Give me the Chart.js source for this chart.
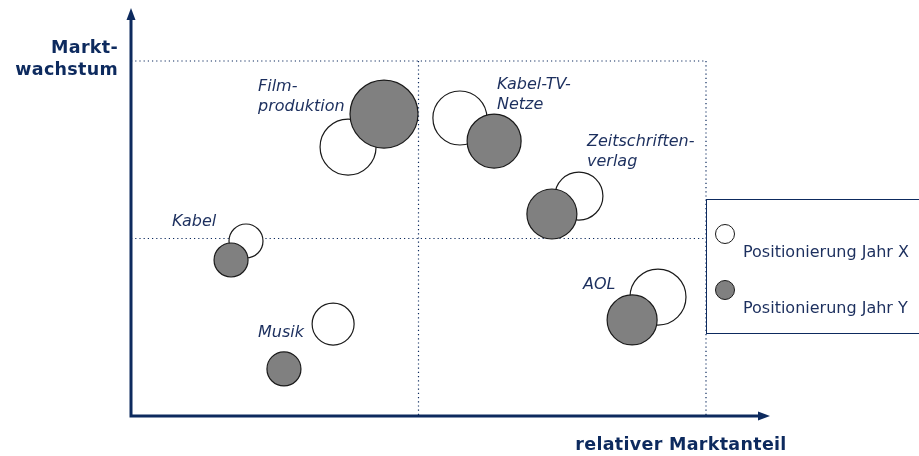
<!DOCTYPE html>
<html>
<head>
<meta charset="utf-8">
<script src="https://cdn.jsdelivr.net/npm/chart.js@4"></script>
<style>
  body { margin: 0; background: #fff; }
  #wrap { width: 919px; height: 456px; }
</style>
</head>
<body>
<div id="wrap"><canvas id="portfolio" width="919" height="456"></canvas></div>
<script>
// Geschäftsfelder (Portfolio-Matrix), Achsen 0..2, Trennlinie bei 1
const felder = ['Filmproduktion', 'Kabel-TV-Netze', 'Zeitschriftenverlag', 'Kabel', 'Musik', 'AOL'];
const labelZeilen = [['Film-', 'produktion'], ['Kabel-TV-', 'Netze'], ['Zeitschriften-', 'verlag'], ['Kabel'], ['Musik'], ['AOL']];

// Jahr X
const anteilX = [0.755, 1.144, 1.558, 0.400, 0.703, 1.833];
const wachstumX = [1.515, 1.679, 1.239, 0.986, 0.518, 0.670];
const groesseX = [28, 27, 24, 17, 21, 28];

// Jahr Y
const anteilY = [0.880, 1.263, 1.464, 0.348, 0.532, 1.743];
const wachstumY = [1.701, 1.549, 1.138, 0.879, 0.265, 0.541];
const groesseY = [34, 27, 25, 17, 17, 25];

const navy = '#0d2a5e';
const textNavy = '#1c2f5e';

function punkte(xs, ys, rs) {
    return xs.map((x, i) => ({ x: x, y: ys[i], r: rs[i] }));
}

// Achsen, Pfeile, Quadrantenlinien, Beschriftungen, Legende
const matrixPlugin = {
    id: 'matrix',
    beforeDatasetsDraw(chart) {
        const ctx = chart.ctx;
        const xs = chart.scales.x;
        const ys = chart.scales.y;
        const x0 = xs.getPixelForValue(0), x1 = xs.getPixelForValue(1), x2 = xs.getPixelForValue(2);
        const y0 = ys.getPixelForValue(0), y1 = ys.getPixelForValue(1), y2 = ys.getPixelForValue(2);

        ctx.save();
        ctx.strokeStyle = navy;
        ctx.lineWidth = 1.2;
        ctx.setLineDash([1.2, 3]);
        ctx.beginPath();
        ctx.moveTo(x0, y2); ctx.lineTo(x2, y2);
        ctx.moveTo(x0, y1); ctx.lineTo(x2, y1);
        ctx.moveTo(x1, y2); ctx.lineTo(x1, y0);
        ctx.moveTo(x2, y2); ctx.lineTo(x2, y0);
        ctx.stroke();
        ctx.restore();

        // Legendenkasten
        ctx.save();
        ctx.fillStyle = '#fff';
        ctx.fillRect(x2, 199, 919 - x2, 135);
        ctx.strokeStyle = navy;
        ctx.lineWidth = 1;
        ctx.strokeRect(x2 + 0.5, 199.5, 919, 134);
        ctx.restore();
    },
    afterDatasetsDraw(chart) {
        const ctx = chart.ctx;
        const xs = chart.scales.x;
        const ys = chart.scales.y;
        const x0 = xs.getPixelForValue(0);
        const y0 = ys.getPixelForValue(0);

        ctx.save();
        // Achsen
        ctx.strokeStyle = navy;
        ctx.fillStyle = navy;
        ctx.lineWidth = 3;
        ctx.setLineDash([]);
        ctx.beginPath();
        ctx.moveTo(x0, y0 + 1.5);
        ctx.lineTo(x0, 18);
        ctx.moveTo(x0 - 1.5, y0);
        ctx.lineTo(762, y0);
        ctx.stroke();
        ctx.beginPath();
        ctx.moveTo(x0, 8); ctx.lineTo(x0 - 4.5, 20); ctx.lineTo(x0 + 4.5, 20); ctx.closePath();
        ctx.fill();
        ctx.beginPath();
        ctx.moveTo(770, y0); ctx.lineTo(758, y0 - 4.5); ctx.lineTo(758, y0 + 4.5); ctx.closePath();
        ctx.fill();

        // Achsentitel
        ctx.font = 'bold 17.5px "DejaVu Sans", Verdana, sans-serif';
        ctx.letterSpacing = '0.3px';
        ctx.textBaseline = 'middle';
        ctx.textAlign = 'right';
        ctx.fillText('Markt-', 118, 48);
        ctx.fillText('wachstum', 118, 70);
        ctx.textAlign = 'center';
        ctx.fillText('relativer Marktanteil', 681, 445);
        ctx.letterSpacing = '0px';

        // Feldbeschriftungen
        const labelPos = [[258, 87], [497, 85], [587, 142], [172, 222], [258, 333], [583, 285]];
        ctx.fillStyle = textNavy;
        ctx.font = 'italic 16px "DejaVu Sans", Verdana, sans-serif';
        ctx.textAlign = 'left';
        labelZeilen.forEach((zeilen, i) => {
            zeilen.forEach((z, j) => ctx.fillText(z, labelPos[i][0], labelPos[i][1] + j * 19.5));
        });

        // Legende
        const ds = chart.data.datasets;
        const eintraege = [ds[1], ds[0]];
        eintraege.forEach((d, i) => {
            const my = 234 + i * 56;
            ctx.beginPath();
            ctx.arc(725, my, 9.5, 0, Math.PI * 2);
            ctx.fillStyle = d.backgroundColor;
            ctx.fill();
            ctx.lineWidth = 1;
            ctx.strokeStyle = d.borderColor;
            ctx.stroke();
            ctx.fillStyle = textNavy;
            ctx.font = '16px "DejaVu Sans", Verdana, sans-serif';
            ctx.textAlign = 'left';
            ctx.fillText(d.label, 743, my + 19);
        });
        ctx.restore();
    }
};

new Chart(document.getElementById('portfolio'), {
    type: 'bubble',
    data: {
        datasets: [
            {
                label: 'Positionierung Jahr Y',
                data: punkte(anteilY, wachstumY, groesseY),
                backgroundColor: '#808080',
                borderColor: '#1a1a1a',
                borderWidth: 1.2
            },
            {
                label: 'Positionierung Jahr X',
                data: punkte(anteilX, wachstumX, groesseX),
                backgroundColor: '#ffffff',
                borderColor: '#1a1a1a',
                borderWidth: 1.2
            }
        ]
    },
    options: {
        responsive: false,
        animation: false,
        layout: { padding: { left: 131, right: 213, top: 61, bottom: 40 } },
        scales: {
            x: { type: 'linear', min: 0, max: 2, display: false },
            y: { type: 'linear', min: 0, max: 2, display: false }
        },
        plugins: {
            legend: { display: false },
            tooltip: { enabled: false }
        },
        elements: { point: { hoverRadius: 0 } }
    },
    plugins: [matrixPlugin]
});
</script>
</body>
</html>
